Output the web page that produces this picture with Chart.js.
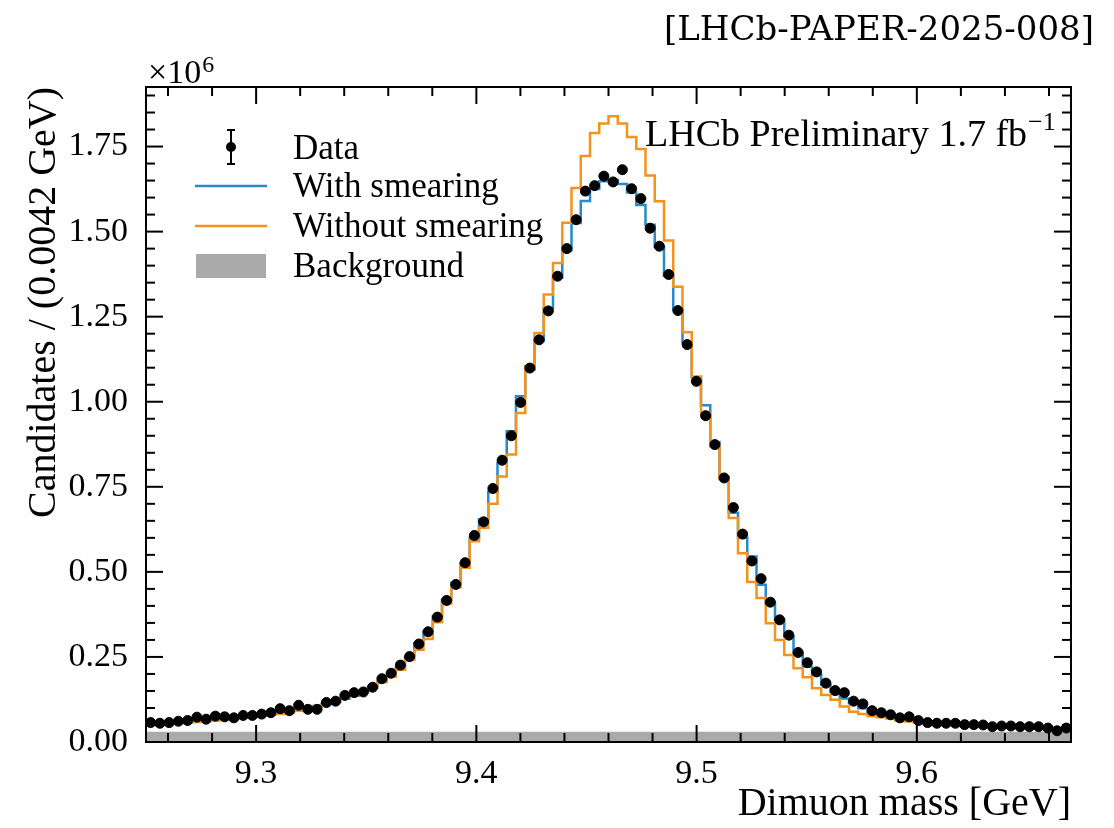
<!DOCTYPE html>
<html>
<head>
<meta charset="utf-8">
<script src="https://cdn.jsdelivr.net/npm/chart.js@4.4.1/dist/chart.umd.min.js"></script>
<style>
  html, body { margin: 0; padding: 0; background: #fff; }
  #wrap { width: 1114px; height: 828px; }
</style>
</head>
<body>
<div id="wrap"><canvas id="myChart" width="1114" height="828"></canvas></div>
<script>
// 100 bins of 0.0042 GeV starting at 9.25 GeV
const binLow = 9.25;
const binWidth = 0.0042;

// candidates per bin, in units of 10^6
const dataValues = [
  0.057, 0.055, 0.057, 0.061, 0.063, 0.073, 0.067, 0.076, 0.074, 0.071,
  0.078, 0.078, 0.082, 0.086, 0.098, 0.092, 0.108, 0.096, 0.096, 0.116,
  0.120, 0.137, 0.145, 0.147, 0.161, 0.186, 0.202, 0.226, 0.251, 0.288,
  0.324, 0.367, 0.416, 0.463, 0.527, 0.607, 0.647, 0.745, 0.828, 0.900,
  0.998, 1.099, 1.182, 1.267, 1.369, 1.450, 1.535, 1.619, 1.635, 1.663,
  1.646, 1.682, 1.626, 1.597, 1.510, 1.457, 1.374, 1.268, 1.168, 1.060,
  0.959, 0.874, 0.776, 0.689, 0.611, 0.532, 0.480, 0.411, 0.359, 0.314,
  0.263, 0.233, 0.206, 0.173, 0.151, 0.145, 0.120, 0.112, 0.092, 0.086,
  0.080, 0.071, 0.074, 0.063, 0.057, 0.055, 0.055, 0.055, 0.051, 0.051,
  0.050, 0.045, 0.047, 0.047, 0.045, 0.045, 0.045, 0.041, 0.033, 0.041
];

const withSmearing = [
  0.054, 0.055, 0.057, 0.059, 0.061, 0.063, 0.065, 0.068, 0.070, 0.072,
  0.075, 0.078, 0.081, 0.085, 0.089, 0.093, 0.097, 0.101, 0.106, 0.112,
  0.119, 0.127, 0.136, 0.147, 0.160, 0.176, 0.195, 0.218, 0.250, 0.290,
  0.325, 0.369, 0.418, 0.467, 0.525, 0.600, 0.655, 0.735, 0.820, 0.913,
  1.016, 1.095, 1.180, 1.275, 1.365, 1.445, 1.525, 1.590, 1.625, 1.648,
  1.652, 1.640, 1.615, 1.578, 1.520, 1.455, 1.370, 1.270, 1.175, 1.072,
  0.990, 0.882, 0.778, 0.674, 0.600, 0.545, 0.462, 0.408, 0.359, 0.310,
  0.261, 0.221, 0.197, 0.168, 0.148, 0.128, 0.114, 0.099, 0.089, 0.082,
  0.076, 0.071, 0.067, 0.063, 0.060, 0.057, 0.055, 0.053, 0.051, 0.050,
  0.048, 0.047, 0.046, 0.045, 0.044, 0.043, 0.043, 0.042, 0.041, 0.041
];

const withoutSmearing = [
  0.050, 0.051, 0.053, 0.055, 0.057, 0.059, 0.061, 0.063, 0.065, 0.068,
  0.071, 0.074, 0.077, 0.080, 0.082, 0.086, 0.092, 0.099, 0.104, 0.112,
  0.119, 0.131, 0.138, 0.148, 0.163, 0.177, 0.192, 0.212, 0.241, 0.271,
  0.303, 0.352, 0.406, 0.454, 0.512, 0.590, 0.630, 0.700, 0.780, 0.845,
  0.967, 1.104, 1.202, 1.315, 1.408, 1.526, 1.628, 1.722, 1.790, 1.818,
  1.839, 1.818, 1.778, 1.743, 1.665, 1.589, 1.474, 1.338, 1.204, 1.074,
  0.967, 0.869, 0.774, 0.658, 0.555, 0.470, 0.423, 0.349, 0.300, 0.256,
  0.217, 0.190, 0.158, 0.138, 0.124, 0.104, 0.089, 0.082, 0.076, 0.073,
  0.069, 0.063, 0.060, 0.057, 0.055, 0.052, 0.050, 0.049, 0.047, 0.046,
  0.045, 0.044, 0.043, 0.042, 0.041, 0.041, 0.040, 0.040, 0.039, 0.039
];

const background = [
  0.030, 0.030, 0.030, 0.030, 0.030, 0.030, 0.030, 0.030, 0.030, 0.030,
  0.030, 0.030, 0.030, 0.030, 0.030, 0.030, 0.030, 0.030, 0.030, 0.030,
  0.030, 0.030, 0.030, 0.030, 0.030, 0.030, 0.030, 0.030, 0.030, 0.030,
  0.030, 0.030, 0.030, 0.030, 0.030, 0.030, 0.030, 0.030, 0.030, 0.030,
  0.030, 0.030, 0.030, 0.030, 0.030, 0.030, 0.030, 0.030, 0.030, 0.030,
  0.030, 0.030, 0.030, 0.030, 0.030, 0.030, 0.030, 0.030, 0.030, 0.030,
  0.030, 0.030, 0.030, 0.030, 0.030, 0.030, 0.030, 0.030, 0.030, 0.030,
  0.030, 0.030, 0.030, 0.030, 0.030, 0.030, 0.030, 0.030, 0.030, 0.030,
  0.030, 0.030, 0.030, 0.030, 0.030, 0.030, 0.030, 0.030, 0.030, 0.030,
  0.030, 0.030, 0.030, 0.030, 0.030, 0.030, 0.030, 0.030, 0.030, 0.030
];

const xTicks = [9.3, 9.4, 9.5, 9.6];
const xMinorTicks = [9.26, 9.28, 9.32, 9.34, 9.36, 9.38, 9.42, 9.44, 9.46, 9.48,
                     9.52, 9.54, 9.56, 9.58, 9.62, 9.64, 9.66];
const yTicks = [0, 0.25, 0.5, 0.75, 1.0, 1.25, 1.5, 1.75];
const yMinorTicks = [0.05, 0.1, 0.15, 0.2, 0.3, 0.35, 0.4, 0.45, 0.55, 0.6, 0.65, 0.7,
                     0.8, 0.85, 0.9, 0.95, 1.05, 1.1, 1.15, 1.2, 1.3, 1.35, 1.4, 1.45,
                     1.55, 1.6, 1.65, 1.7, 1.8, 1.85, 1.9];

const serif = "'Liberation Serif', 'Times New Roman', serif";

function binCenters(vals) {
  return vals.map((v, i) => ({ x: binLow + (i + 0.5) * binWidth, y: v }));
}

// step outline: one point per left bin edge, plus the final right edge
function stepPoints(vals) {
  const pts = vals.map((v, i) => ({ x: binLow + i * binWidth, y: v }));
  pts.push({ x: binLow + vals.length * binWidth, y: vals[vals.length - 1] });
  return pts;
}

function line(ctx, x1, y1, x2, y2) {
  ctx.beginPath();
  ctx.moveTo(x1, y1);
  ctx.lineTo(x2, y2);
  ctx.stroke();
}

const framePlugin = {
  id: 'frame',
  afterDraw(chart) {
    const { ctx, chartArea: a, scales: { x, y } } = chart;
    const ds = chart.data.datasets;
    ctx.save();
    ctx.strokeStyle = '#000';
    ctx.lineWidth = 2;

    // inward ticks on all four sides
    xMinorTicks.forEach(v => {
      const p = x.getPixelForValue(v);
      line(ctx, p, a.bottom, p, a.bottom - 9);
      line(ctx, p, a.top, p, a.top + 9);
    });
    xTicks.forEach(v => {
      const p = x.getPixelForValue(v);
      line(ctx, p, a.bottom, p, a.bottom - 17);
      line(ctx, p, a.top, p, a.top + 17);
    });
    yMinorTicks.forEach(v => {
      const p = y.getPixelForValue(v);
      line(ctx, a.left, p, a.left + 9, p);
      line(ctx, a.right, p, a.right - 9, p);
    });
    yTicks.forEach(v => {
      const p = y.getPixelForValue(v);
      line(ctx, a.left, p, a.left + 17, p);
      line(ctx, a.right, p, a.right - 17, p);
    });
    ctx.strokeRect(a.left, a.top, a.right - a.left, a.bottom - a.top);

    ctx.fillStyle = '#000';
    ctx.textBaseline = 'alphabetic';
    ctx.textAlign = 'left';

    // axis multiplier
    ctx.font = '34px ' + serif;
    ctx.fillText('×10', a.left + 2, a.top - 4);
    const mw = ctx.measureText('×10').width;
    ctx.font = '24px ' + serif;
    ctx.fillText('6', a.left + 2 + mw + 1, a.top - 15);

    // experiment label
    ctx.font = '38px ' + serif;
    const lab = 'LHCb Preliminary 1.7 fb';
    ctx.fillText(lab, 645, 146);
    const lw = ctx.measureText(lab).width;
    ctx.font = '26px ' + serif;
    ctx.fillText('−1', 645 + lw + 1, 130);

    // paper reference
    ctx.font = "34px 'DejaVu Serif', serif";
    ctx.textAlign = 'right';
    ctx.fillText('[LHCb-PAPER-2025-008]', 1094, 40);

    // legend
    ctx.textAlign = 'left';
    ctx.textBaseline = 'middle';
    ctx.font = '35px ' + serif;
    const lx = 293;
    // data marker with error bar
    ctx.lineWidth = 2;
    line(ctx, 231, 130, 231, 164);
    line(ctx, 227, 130, 235, 130);
    line(ctx, 227, 164, 235, 164);
    ctx.beginPath();
    ctx.arc(231, 147, 5, 0, Math.PI * 2);
    ctx.fill();
    ctx.fillText(ds[0].label, lx, 150);
    ctx.lineWidth = 2.5;
    ctx.strokeStyle = ds[1].borderColor;
    line(ctx, 195, 186, 267, 186);
    ctx.fillText(ds[1].label, lx, 188);
    ctx.strokeStyle = ds[2].borderColor;
    line(ctx, 195, 226, 267, 226);
    ctx.fillText(ds[2].label, lx, 228);
    ctx.fillStyle = ds[3].backgroundColor;
    ctx.fillRect(196, 254, 70, 24);
    ctx.fillStyle = '#000';
    ctx.fillText(ds[3].label, lx, 268);
    ctx.restore();
  }
};

new Chart('myChart', {
  type: 'scatter',
  data: {
    datasets: [
      {
        label: 'Data',
        data: binCenters(dataValues),
        backgroundColor: '#000',
        borderColor: '#000',
        pointRadius: 5,
        pointHoverRadius: 5,
        order: 0
      },
      {
        label: 'With smearing',
        data: stepPoints(withSmearing),
        showLine: true,
        stepped: 'before',
        borderColor: '#2a8ac6',
        borderWidth: 2.5,
        pointRadius: 0,
        order: 2
      },
      {
        label: 'Without smearing',
        data: stepPoints(withoutSmearing),
        showLine: true,
        stepped: 'before',
        borderColor: '#f5921e',
        borderWidth: 2.5,
        pointRadius: 0,
        order: 1
      },
      {
        label: 'Background',
        data: stepPoints(background),
        showLine: true,
        stepped: 'before',
        fill: 'origin',
        backgroundColor: '#aaaaaa',
        borderColor: '#aaaaaa',
        borderWidth: 0,
        pointRadius: 0,
        order: 3
      }
    ]
  },
  options: {
    responsive: false,
    animation: false,
    layout: { padding: { top: 87, right: 43, left: 0, bottom: 0 } },
    plugins: {
      legend: { display: false },
      tooltip: { enabled: false }
    },
    scales: {
      x: {
        type: 'linear',
        min: binLow,
        max: 9.67,
        afterBuildTicks: s => { s.ticks = xTicks.map(v => ({ value: v })); },
        afterFit: s => { s.height = 86; },
        grid: { display: false, drawTicks: false },
        border: { display: false },
        ticks: {
          padding: 12,
          color: '#000',
          font: { family: serif, size: 34 },
          callback: v => v.toFixed(1)
        },
        title: {
          display: true,
          text: 'Dimuon mass [GeV]',
          align: 'end',
          color: '#000',
          font: { family: serif, size: 40 },
          padding: { top: 0, bottom: 0 }
        }
      },
      y: {
        min: 0,
        max: 1.925,
        afterBuildTicks: s => { s.ticks = yTicks.map(v => ({ value: v })); },
        afterFit: s => { s.width = 146; },
        grid: { display: false, drawTicks: false },
        border: { display: false },
        ticks: {
          padding: 18,
          color: '#000',
          font: { family: serif, size: 34 },
          callback: v => v.toFixed(2)
        },
        title: {
          display: true,
          text: 'Candidates / (0.0042 GeV)',
          align: 'end',
          color: '#000',
          font: { family: serif, size: 40 },
          padding: { top: 20, bottom: 0 }
        }
      }
    }
  },
  plugins: [framePlugin]
});
</script>
</body>
</html>
